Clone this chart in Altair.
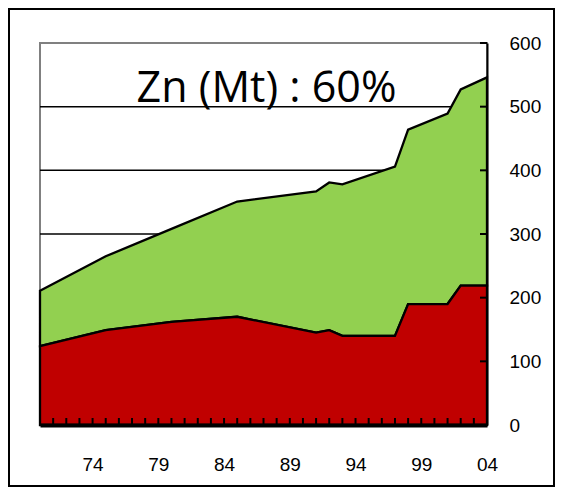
import altair as alt
import pandas as pd

# Data
years = [1970, 1975, 1980, 1985, 1991, 1992, 1993, 1997, 1998, 2001, 2002, 2004]
red = [124, 149, 162, 170, 145, 149, 140, 140, 190, 190, 219, 219]
total = [211, 265, 308, 351, 367, 381, 378, 406, 464, 489, 527, 546]
x_label_years = [1974, 1979, 1984, 1989, 1994, 1999, 2004]
y_ticks = [0, 100, 200, 300, 400, 500, 600]
grid_values = [100, 200, 300, 400, 500]
minor_years = list(range(1971, 2004))
title_text = "Zn (Mt) : 60%"

W, H = 447, 382
PAD_L, PAD_T, PAD_R, PAD_B = 32, 35, 68, 62

df = pd.DataFrame({"year": years, "red": red, "total": total})

xscale = alt.Scale(domain=[1970, 2004], nice=False, zero=False)
yscale = alt.Scale(domain=[0, 600], nice=False)

x_axis = alt.Axis(
    values=x_label_years,
    labelExpr="substring(toString(datum.value), 2)",
    ticks=False,
    grid=False,
    domainColor="black",
    domainWidth=4,
    labelPadding=30,
    labelFlush=False,
    labelFont="Liberation Sans",
    labelFontSize=19,
    labelColor="black",
    title=None,
    zindex=1,
)
y_axis = alt.Axis(
    orient="right",
    values=y_ticks,
    ticks=False,
    grid=False,
    domainColor="black",
    domainWidth=2,
    labelPadding=22,
    labelFlush=False,
    labelAlign="left",
    labelBaseline="middle",
    labelFont="Liberation Sans",
    labelFontSize=19,
    labelColor="black",
    title=None,
    zindex=1,
)

grid = alt.Chart(pd.DataFrame({"v": grid_values})).mark_rule(
    color="black", strokeWidth=1.5
).encode(y=alt.Y("v:Q", scale=yscale, axis=y_axis))

green_area = alt.Chart(df).mark_area(
    color="#92D050", stroke="black", strokeWidth=2.3
).encode(
    x=alt.X("year:Q", scale=xscale, axis=x_axis),
    y=alt.Y("total:Q", scale=yscale, axis=y_axis),
    y2="red:Q",
)

red_area = alt.Chart(df).mark_area(
    color="#C00000", stroke="black", strokeWidth=2.3
).encode(
    x=alt.X("year:Q", scale=xscale, axis=x_axis),
    y=alt.Y("red:Q", scale=yscale, stack=None, axis=y_axis),
)

xticks = alt.Chart(pd.DataFrame({"yr": minor_years})).mark_rule(
    color="black", strokeWidth=2
).encode(
    x=alt.X("yr:Q", scale=xscale, axis=x_axis),
    y=alt.value(H - 7),
    y2=alt.value(H),
)

yticks = alt.Chart(pd.DataFrame({"t": y_ticks})).mark_rule(
    color="black", strokeWidth=2
).encode(
    y=alt.Y("t:Q", scale=yscale, axis=y_axis),
    x=alt.value(W - 7),
    x2=alt.value(W),
)

title = alt.Chart(pd.DataFrame({"t": [title_text]})).mark_text(
    font="Open Sans", fontSize=43, color="black", align="center", baseline="alphabetic"
).encode(text="t:N", x=alt.value(W / 2 + 3), y=alt.value(59))

frame = alt.Chart(pd.DataFrame({"a": [0]})).mark_rect(
    fill=None, stroke="black", strokeWidth=2
).encode(
    x=alt.value(-PAD_L + 1),
    x2=alt.value(W + PAD_R - 1),
    y=alt.value(-PAD_T + 1),
    y2=alt.value(H + PAD_B - 1),
)

chart = alt.layer(grid, green_area, red_area, xticks, yticks, title, frame).properties(
    width=W,
    height=H,
    padding={"left": PAD_L, "top": PAD_T, "right": PAD_R, "bottom": PAD_B},
    autosize=alt.AutoSizeParams(type="none"),
).configure_view(stroke="#808080", strokeWidth=2)

chart.save("out.html", embed_options={"renderer": "svg", "actions": False})
